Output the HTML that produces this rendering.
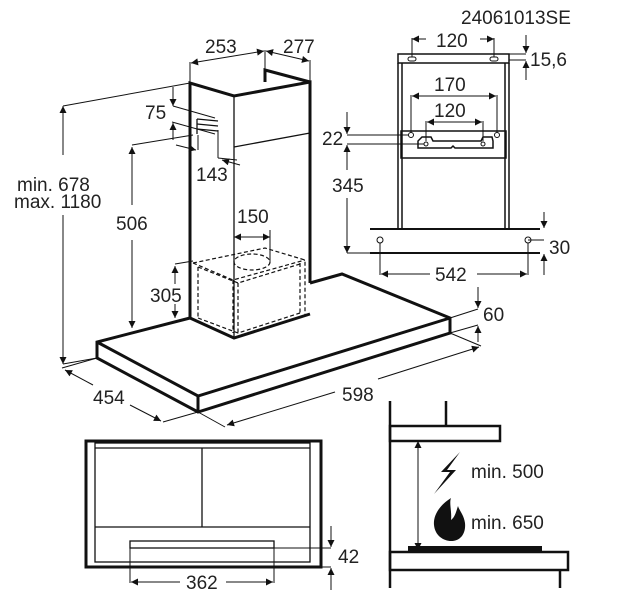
<!DOCTYPE html>
<html><head><meta charset="utf-8"><style>
html,body{margin:0;padding:0;background:#fff;}
svg{display:block;}
text{font-family:"Liberation Sans",sans-serif;font-size:19px;fill:#222;}
</style></head><body>
<svg width="629" height="600" viewBox="0 0 629 600" xmlns="http://www.w3.org/2000/svg">
<defs>
<marker id="a" viewBox="0 0 10 10" refX="10" refY="5" markerWidth="10" markerHeight="7" orient="auto-start-reverse" markerUnits="userSpaceOnUse"><path d="M0,0L10,5L0,10z" fill="#111"/></marker>
</defs>
<g stroke="#111" fill="none">
<g stroke-width="3">
<polyline points="190,318 190,83 234,96 310,82 310,283"/>
<polyline points="265,82 265,70 310,82"/>
<polyline points="190,318 234,338 310,314"/>
<polyline points="310,283 342,274 450,318 450,333 198,412 97,358 97,342 190,318"/>
<polyline points="97,342 198,396 450,318"/>
<line x1="198" y1="396" x2="198" y2="412"/>
</g>
<g stroke-width="1.3">
<line x1="234" y1="96" x2="234" y2="338"/>
<line x1="234" y1="147" x2="310" y2="133"/>
<line x1="197" y1="119" x2="218" y2="121"/><line x1="197" y1="124" x2="218" y2="126"/><line x1="197" y1="129" x2="218" y2="131"/>
<line x1="197" y1="119" x2="197" y2="134"/>
</g>
<g stroke-width="1.2" stroke-dasharray="4,2.5">
<polyline points="193,263 265,248 305,260 305,315"/>
<polyline points="193,263 233,280 305,260"/>
<line x1="233" y1="280" x2="233" y2="333"/>
<line x1="198" y1="267" x2="198" y2="318"/><line x1="238" y1="283" x2="238" y2="333"/>
<line x1="300" y1="263" x2="300" y2="313"/>
<polyline points="198,318 238,333 300,313"/>
<polyline points="198,267 238,283 300,264"/>
<ellipse cx="252" cy="262" rx="18" ry="8"/>
</g>
<g stroke-width="1">
<line x1="234" y1="230" x2="234" y2="262"/><line x1="270" y1="230" x2="270" y2="262"/>
<line x1="234" y1="237" x2="270" y2="237" marker-start="url(#a)" marker-end="url(#a)"/>
<line x1="190" y1="83" x2="190" y2="62"/><line x1="265" y1="70" x2="265" y2="50"/><line x1="310" y1="82" x2="310" y2="60"/>
<line x1="191" y1="63" x2="264" y2="51" marker-start="url(#a)" marker-end="url(#a)"/>
<line x1="266" y1="51" x2="309" y2="61" marker-start="url(#a)" marker-end="url(#a)"/>
<line x1="190" y1="83" x2="63" y2="106"/>
<line x1="63" y1="106" x2="63" y2="155" marker-start="url(#a)"/>
<line x1="63" y1="215" x2="63" y2="364" marker-end="url(#a)"/>
<line x1="63" y1="364" x2="97" y2="358"/>
<line x1="173" y1="106" x2="215" y2="118"/>
<line x1="173" y1="87" x2="173" y2="106" marker-end="url(#a)"/>
<line x1="172" y1="122" x2="215" y2="134"/>
<line x1="173" y1="140" x2="173" y2="123" marker-end="url(#a)"/>
<line x1="198" y1="135" x2="198" y2="150"/>
<line x1="176" y1="145" x2="196" y2="150" marker-end="url(#a)"/>
<line x1="218" y1="130" x2="218" y2="158"/>
<line x1="218" y1="158" x2="237" y2="160"/>
<line x1="240" y1="165" x2="222" y2="160" marker-end="url(#a)"/>
<line x1="132" y1="145" x2="193" y2="135"/>
<line x1="132" y1="147" x2="132" y2="205" marker-start="url(#a)"/>
<line x1="132" y1="240" x2="132" y2="328" marker-end="url(#a)"/>
<line x1="175" y1="264" x2="193" y2="261"/>
<line x1="175" y1="266" x2="175" y2="284" marker-start="url(#a)"/>
<line x1="175" y1="304" x2="175" y2="318" marker-end="url(#a)"/>
<line x1="97" y1="358" x2="62" y2="368"/>
<line x1="198" y1="412" x2="163" y2="422"/>
<line x1="65" y1="370" x2="93" y2="385" marker-start="url(#a)"/>
<line x1="130" y1="405" x2="161" y2="421" marker-end="url(#a)"/>
<line x1="198" y1="412" x2="225" y2="427"/>
<line x1="450" y1="333" x2="481" y2="346"/>
<line x1="227" y1="425" x2="335" y2="392" marker-start="url(#a)"/>
<line x1="378" y1="379" x2="479" y2="347" marker-end="url(#a)"/>
<line x1="450" y1="318" x2="478" y2="309"/><line x1="450" y1="333" x2="478" y2="325"/>
<line x1="478" y1="287" x2="478" y2="308" marker-end="url(#a)"/>
<line x1="478" y1="342" x2="478" y2="326" marker-end="url(#a)"/>
</g>

<g stroke-width="1.5">
<rect x="398" y="54" width="111" height="9"/>
<line x1="398" y1="63" x2="398" y2="229"/><line x1="402" y1="63" x2="402" y2="229"/>
<line x1="505" y1="63" x2="505" y2="229"/><line x1="509" y1="63" x2="509" y2="229"/>
<rect x="401" y="131" width="105" height="27"/>
<line x1="370" y1="229" x2="540" y2="229" stroke-width="2"/>
<line x1="370" y1="253" x2="540" y2="253" stroke-width="2"/>
<path d="M418,148 L418,141 L422,137 L431,137 L433,141 L481,141 L483,137 L492,137 L493,141 L493,148 L455,148 L453,146 L451,148 Z"/>
</g>
<g stroke-width="1">
<rect x="408" y="57" width="8" height="4" rx="2"/><rect x="490" y="57" width="8" height="4" rx="2"/>
<circle cx="411" cy="135" r="2.5"/><circle cx="497" cy="135" r="2.5"/>
<circle cx="426" cy="144" r="2"/><circle cx="483" cy="144" r="2"/>
<circle cx="380" cy="240" r="3"/><circle cx="528" cy="240" r="3"/>
<line x1="412" y1="57" x2="412" y2="38"/><line x1="494" y1="57" x2="494" y2="38"/>
<line x1="412" y1="39" x2="426" y2="39" marker-start="url(#a)"/>
<line x1="480" y1="39" x2="494" y2="39" marker-end="url(#a)"/>
<line x1="509" y1="54" x2="526" y2="54"/><line x1="509" y1="60" x2="526" y2="60"/>
<line x1="526" y1="35" x2="526" y2="53" marker-end="url(#a)"/>
<line x1="526" y1="80" x2="526" y2="61" marker-end="url(#a)"/>
<line x1="411" y1="133" x2="411" y2="95"/><line x1="497" y1="133" x2="497" y2="95"/>
<line x1="412" y1="96" x2="496" y2="96" marker-start="url(#a)" marker-end="url(#a)"/>
<line x1="426" y1="141" x2="426" y2="121"/><line x1="483" y1="141" x2="483" y2="121"/>
<line x1="427" y1="122" x2="482" y2="122" marker-start="url(#a)" marker-end="url(#a)"/>
<line x1="347" y1="135" x2="409" y2="135"/><line x1="347" y1="144" x2="424" y2="144"/>
<line x1="347" y1="112" x2="347" y2="134" marker-end="url(#a)"/>
<line x1="347" y1="170" x2="347" y2="145" marker-end="url(#a)"/>
<line x1="347" y1="198" x2="347" y2="253" marker-end="url(#a)"/>
<line x1="347" y1="253" x2="370" y2="253"/>
<line x1="528" y1="240" x2="544" y2="240"/>
<line x1="544" y1="212" x2="544" y2="228" marker-end="url(#a)"/>
<line x1="544" y1="275" x2="544" y2="254" marker-end="url(#a)"/>
<line x1="380" y1="243" x2="380" y2="275"/><line x1="528" y1="243" x2="528" y2="275"/>
<line x1="381" y1="274" x2="430" y2="274" marker-start="url(#a)"/>
<line x1="477" y1="274" x2="527" y2="274" marker-end="url(#a)"/>
</g>

<rect x="86" y="441" width="235" height="126" stroke-width="3"/>
<g stroke-width="1.3">
<rect x="95" y="443" width="215" height="119"/>
<line x1="95" y1="448" x2="310" y2="448"/>
<line x1="95" y1="527" x2="310" y2="527"/>
<line x1="202" y1="448" x2="202" y2="527"/>
<rect x="130" y="541" width="144" height="7"/>
</g>
<g stroke-width="1">
<line x1="130" y1="548" x2="130" y2="583"/><line x1="274" y1="548" x2="274" y2="583"/>
<line x1="131" y1="582" x2="180" y2="582" marker-start="url(#a)"/>
<line x1="226" y1="582" x2="273" y2="582" marker-end="url(#a)"/>
<line x1="274" y1="548" x2="331" y2="548"/><line x1="321" y1="567" x2="331" y2="567"/>
<line x1="331" y1="526" x2="331" y2="547" marker-end="url(#a)"/>
<line x1="331" y1="590" x2="331" y2="568" marker-end="url(#a)"/>
</g>

<g stroke-width="2.5">
<line x1="390" y1="401" x2="390" y2="588"/>
<line x1="446" y1="401" x2="446" y2="426"/>
<rect x="390" y="426" width="110" height="15"/>
<rect x="390" y="552" width="178" height="18"/>
<line x1="560" y1="570" x2="560" y2="588"/>
</g>
<rect x="408" y="546" width="134" height="5" fill="#111" stroke="none"/>
<line x1="418" y1="441" x2="418" y2="550" stroke-width="1" marker-start="url(#a)" marker-end="url(#a)"/>
</g>
<path d="M460,452 L441,472 L450,472 L434,494 L456,470 L447,470 Z" fill="#111"/>
<path d="M451,498 C440,505 433,515 434,525 C435,536 444,541 451,541 C461,541 466,533 465,523 C464,515 459,510 458,506 C456,512 455,517 451,520 C452,512 449,503 451,498 Z" fill="#111"/>

<text x="461" y="24">24061013SE</text>
<text x="436" y="47">120</text>
<text x="530" y="66">15,6</text>
<text x="434" y="91">170</text>
<text x="434" y="117">120</text>
<text x="322" y="145">22</text>
<text x="332" y="192">345</text>
<text x="549" y="254">30</text>
<text x="435" y="281">542</text>
<text x="205" y="53">253</text>
<text x="283" y="53">277</text>
<text x="145" y="119">75</text>
<text x="196" y="181">143</text>
<text x="17" y="191">min. 678</text>
<text x="14" y="208">max. 1180</text>
<text x="116" y="230">506</text>
<text x="237" y="223">150</text>
<text x="150" y="302">305</text>
<text x="483" y="321">60</text>
<text x="93" y="404">454</text>
<text x="342" y="401">598</text>
<text x="186" y="589">362</text>
<text x="338" y="563">42</text>
<text x="471" y="478">min. 500</text>
<text x="471" y="529">min. 650</text>
</svg>
</body></html>
